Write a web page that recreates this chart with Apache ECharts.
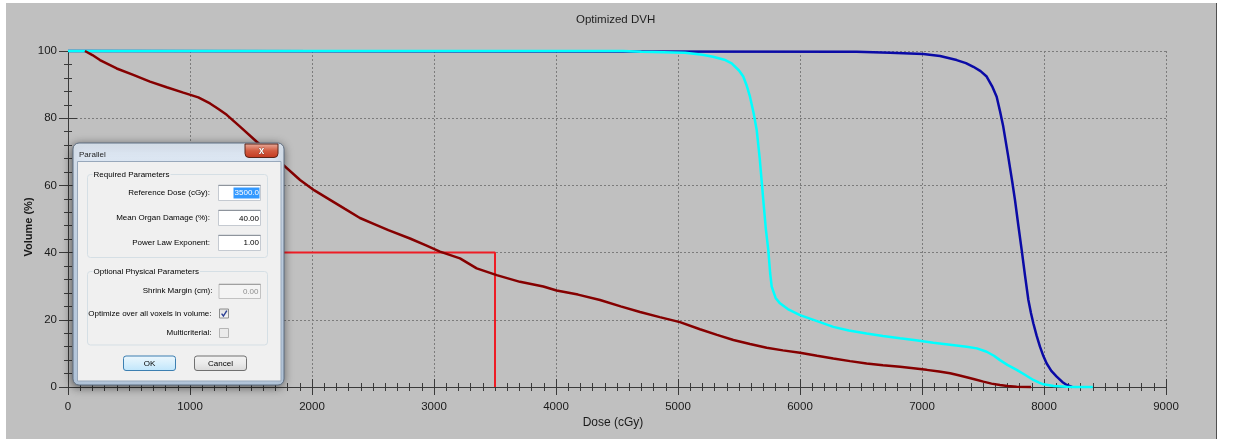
<!DOCTYPE html>
<html>
<head>
<meta charset="utf-8">
<script src="https://cdn.jsdelivr.net/npm/echarts@6/dist/echarts.min.js"></script>
<style>
html,body{margin:0;padding:0;background:#ffffff;}
#chart{width:1235px;height:439px;}
</style>
</head>
<body>
<div id="chart"></div>
<script>
// ---- data (dose in cGy, volume in %) ----
const titleText = 'Optimized DVH';
const xAxisName = 'Dose (cGy)';
const yAxisName = 'Volume (%)';
const doseMin = 0, doseMax = 9000, doseStep = 1000;
const volMin = 0, volMax = 100, volStep = 20;

const blueCurve = [[0,100],[6464,99.8],[6738,99.5],[7011,99.1],[7148,98.5],[7284,97.3],[7360,96.4],[7421,95.3],[7480,94],[7530,92.4],[7575,89.5],[7612,86.4],[7640,82],[7666,77.5],[7705,69],[7740,61],[7762,55.7],[7790,48],[7817,40.8],[7845,33],[7872,25.9],[7893,22],[7913,18.9],[7940,15.2],[7967,12.0],[7995,9.2],[8022,7.0],[8060,4.8],[8104,3.1],[8150,1.5],[8186,0.6],[8230,0]];

const cyanCurve = [[0,100],[4550,100],[4700,99.8],[5057,99.5],[5200,98.9],[5287,98.3],[5380,97.4],[5440,96.3],[5500,94.2],[5535,92.4],[5565,89.5],[5590,86.4],[5620,81.5],[5645,76.5],[5670,68],[5699,55.7],[5720,47],[5740,40.8],[5755,34],[5768,29.9],[5800,26.5],[5836,24.9],[5900,23.2],[6000,21.4],[6140,19.6],[6273,17.9],[6400,16.8],[6546,15.9],[6680,15.2],[6820,14.5],[6950,13.9],[7093,13.2],[7230,12.6],[7366,12.0],[7450,11.5],[7530,10.5],[7590,9.3],[7639,8.0],[7700,6.6],[7776,5.1],[7850,3.5],[7913,2.1],[7960,1.3],[7995,0.8],[8080,0.3],[8186,0.1],[8260,0],[8400,0]];

const redCurve = [[139,100],[200,98.8],[262,97.3],[399,94.8],[535,92.9],[672,90.9],[809,89.2],[945,87.6],[1068,86.2],[1164,84.4],[1230,82.8],[1301,81.0],[1410,77.5],[1547,73.0],[1700,68.2],[1902,61.6],[2020,58.5],[2148,55.7],[2270,53],[2393,50.3],[2510,48.5],[2626,46.7],[2803,44.2],[2930,42.2],[3049,40.3],[3213,38.3],[3350,35.3],[3514,33.3],[3705,31.3],[3896,29.9],[4005,28.7],[4180,27.5],[4361,25.9],[4530,24.0],[4689,22.3],[4850,20.8],[5016,19.3],[5180,17.2],[5320,15.5],[5454,14.0],[5590,12.8],[5727,11.7],[5860,10.9],[6000,10.2],[6140,9.3],[6273,8.5],[6410,7.7],[6546,7.0],[6680,6.5],[6820,6.0],[6930,5.6],[7038,5.1],[7140,4.6],[7230,4.1],[7300,3.5],[7366,2.9],[7430,2.3],[7503,1.6],[7570,1.0],[7639,0.6],[7700,0.3],[7776,0.1],[7894,0]];

const refDose = 3500;   // Reference Dose (cGy)
const refVolume = 40;   // Mean Organ Damage (%)
const refLine = [[500,refVolume],[refDose,refVolume],[refDose,0]];

// dialog texts
const dialogTitle = 'Parallel';
const groupRequired = 'Required Parameters';
const groupOptional = 'Optional Physical Parameters';
const fieldLabels = ['Reference Dose (cGy):','Mean Organ Damage (%):','Power Law Exponent:'];
const fieldValues = ['3500.0','40.00','1.00'];
const shrinkLabel = 'Shrink Margin (cm):', shrinkValue = '0.00';
const optLabels = ['Optimize over all voxels in volume:','Multicriterial:'];

// ---- chart ----
const axisColor = '#3a3a3a';
const lblFont = '"Liberation Sans", Arial, sans-serif';
const dlgFont = '8px "Liberation Sans", Arial, sans-serif';

function xAx(inside, main){
  return {
    type:'value', min:doseMin, max:doseMax, interval:doseStep, position:'bottom',
    name: main ? xAxisName : '', nameLocation:'middle', nameGap:30, nameMoveOverlap:false,
    nameTextStyle:{color:'#1a1a1a', fontSize:12, fontFamily:lblFont, padding:[0,8,0,0]},
    axisLine:{show:true, onZero:false, lineStyle:{color:axisColor, width:1}},
    axisTick:{show:true, inside:inside, length:8, lineStyle:{color:axisColor, width:1}},
    minorTick:{show:true, splitNumber:10, length:4, lineStyle:{color:axisColor, width:1}},
    axisLabel:{show:main, margin:14, color:'#1a1a1a', fontSize:11.5, fontFamily:lblFont, formatter:function(v){return String(v);}},
    splitLine:{show:main, lineStyle:{color:'#7c7c7c', width:1, type:[2,2]}},
    minorSplitLine:{show:false}
  };
}
function yAx(inside, main){
  return {
    type:'value', min:volMin, max:volMax, interval:volStep, position:'left',
    name: main ? yAxisName : '', nameLocation:'middle', nameGap:34, nameMoveOverlap:false,
    nameTextStyle:{color:'#1a1a1a', fontSize:11, fontWeight:'bold', fontFamily:lblFont, padding:[0,16,0,0]},
    axisLine:{show:true, onZero:false, lineStyle:{color:axisColor, width:1}},
    axisTick:{show:true, inside:inside, length:9, lineStyle:{color:axisColor, width:1}},
    minorTick:{show:true, splitNumber:5, length:4, lineStyle:{color:axisColor, width:1}},
    axisLabel:{show:main, margin:11, color:'#1a1a1a', fontSize:11.5, fontFamily:lblFont, formatter:function(v){return String(v);}},
    splitLine:{show:main, lineStyle:{color:'#7c7c7c', width:1, type:[2,2]}},
    minorSplitLine:{show:false}
  };
}

function T(x,y,text,opt){
  opt = opt || {};
  return {type:'text', x:x, y:y, z:opt.z||110,
    style:Object.assign({text:text, font:dlgFont, fill:'#000', align:'left', verticalAlign:'middle'}, opt.style||{})};
}
function R(x,y,w,h,style,r,z){
  return {type:'rect', shape:{x:x,y:y,width:w,height:h,r:r||0}, z:z||105, style:style};
}
function grad(c1,c2,c3){
  const stops = c3 ? [{offset:0,color:c1},{offset:0.5,color:c2},{offset:1,color:c3}] : [{offset:0,color:c1},{offset:1,color:c2}];
  return {type:'linear', x:0, y:0, x2:0, y2:1, colorStops:stops};
}

const dialog = [];
// frame with shadow
dialog.push(R(73,143,211,242,{fill:grad('#dfe8f3','#c3d4e7','#b8cbe0'), stroke:'#5f6f82', lineWidth:1, shadowBlur:10, shadowColor:'rgba(0,0,0,0.55)', shadowOffsetX:-1, shadowOffsetY:2},6,100));
dialog.push(T(79,155,dialogTitle,{style:{fill:'#1e1e1e'}}));
// close button
dialog.push(R(245,144,33,13.5,{fill:grad('#eab0a0','#d25b40','#c2381f'), stroke:'#5c2418', lineWidth:1},[0,0,4,4],106));
dialog.push(T(261.5,150.8,'x',{style:{font:'bold 10px "Liberation Sans", Arial, sans-serif', fill:'#ffffff', stroke:'#6a2a1e', lineWidth:0.6, align:'center'}}));
// client area
dialog.push(R(77.5,161.5,203.5,219.5,{fill:'#f0f0f0', stroke:'#98a8bb', lineWidth:1},0,101));
// group boxes
dialog.push(R(87.5,174.5,180,83,{fill:'none', stroke:'#d5dfe5', lineWidth:1},3,102));
dialog.push(R(87.5,271.5,180,73.5,{fill:'none', stroke:'#d5dfe5', lineWidth:1},3,102));
dialog.push(T(92.5,174.5,groupRequired,{style:{backgroundColor:'#f0f0f0', padding:[0,1]}}));
dialog.push(T(92.5,272,groupOptional,{style:{backgroundColor:'#f0f0f0', padding:[0,1]}}));
// required fields
const fieldY = [192.5, 218, 242.5];
const boxY = [185, 210, 235];
for (let i=0;i<3;i++){
  dialog.push(T(210,fieldY[i],fieldLabels[i],{style:{align:'right'}}));
  dialog.push(R(218.5,boxY[i],42,15.5,{fill:'#ffffff', stroke:'#c5cad1', lineWidth:1},0,103));
  dialog.push({type:'line', z:104, shape:{x1:218.5,y1:boxY[i]+0.5,x2:260.5,y2:boxY[i]+0.5}, style:{stroke:'#8e949c', lineWidth:1}});
  if (i===0){
    dialog.push(R(233.5,boxY[i]+2.5,26,11,{fill:'#3399ff'},0,104));
    dialog.push(T(259,fieldY[i],fieldValues[i],{style:{align:'right', fill:'#ffffff'}}));
  } else {
    dialog.push(T(259,fieldY[i]+0.3,fieldValues[i],{style:{align:'right'}}));
  }
}
// shrink margin (disabled)
dialog.push(T(212.5,290.8,shrinkLabel,{style:{align:'right'}}));
dialog.push(R(219,284,41.5,14.5,{fill:'#f4f4f4', stroke:'#c2c2c2', lineWidth:1},0,103));
dialog.push({type:'line', z:104, shape:{x1:219,y1:284.5,x2:260.5,y2:284.5}, style:{stroke:'#a0a0a0', lineWidth:1}});
dialog.push(T(258.5,291.3,shrinkValue,{style:{align:'right', fill:'#8f8f8f'}}));
// checkboxes
dialog.push(T(211.5,313.8,optLabels[0],{style:{align:'right'}}));
dialog.push(R(219.5,309,9,9,{fill:grad('#dedede','#f8f8f8'), stroke:'#8e8f8f', lineWidth:1},0,103));
dialog.push({type:'polyline', z:106, shape:{points:[[221.6,313.6],[223.4,316],[226.8,310.6]]}, style:{stroke:'#2b3f94', lineWidth:1.4, fill:'none'}});
dialog.push(T(211.5,333,optLabels[1],{style:{align:'right'}}));
dialog.push(R(219.5,328.5,9,9,{fill:'#ebebeb', stroke:'#b5b5b5', lineWidth:1},0,103));
// buttons
dialog.push(R(123.5,356,52,14.5,{fill:grad('#edf7fd','#d7effc','#bfe5fb'), stroke:'#3c7fb1', lineWidth:1},2.5,103));
dialog.push(T(149.5,363.5,'OK',{style:{align:'center'}}));
dialog.push(R(194.5,356,52,14.5,{fill:grad('#f3f3f3','#ebebeb','#d8d8d8'), stroke:'#707070', lineWidth:1},2.5,103));
dialog.push(T(220.5,363.5,'Cancel',{style:{align:'center'}}));

const graphics = [
  R(6,3,1210,436,{fill:'#c0c0c0'},0,-10),
  {type:'line', z:-9, shape:{x1:1216.5,y1:3,x2:1216.5,y2:439}, style:{stroke:'#505050', lineWidth:1}}
].concat(dialog);

const chart = echarts.init(document.getElementById('chart'), null, {renderer:'canvas'});
chart.setOption({
  backgroundColor:'#ffffff',
  animation:false,
  title:{text:titleText, left:571, top:9, textStyle:{color:'#1e1e1e', fontSize:11.5, fontWeight:'normal', fontFamily:lblFont}},
  grid:{left:68, right:69, top:51, bottom:52, containLabel:false},
  xAxis:[xAx(false,true), xAx(true,false)],
  yAxis:[yAx(false,true), yAx(true,false)],
  graphic:{elements:graphics},
  series:[
    {name:'Reference', type:'line', data:refLine, xAxisIndex:0, yAxisIndex:0, symbol:'none', clip:false, z:2,
      lineStyle:{color:'#ee1c25', width:2}},
    {name:'Structure 1', type:'line', data:blueCurve, xAxisIndex:0, yAxisIndex:0, symbol:'none', clip:false, z:3,
      lineStyle:{color:'#0a0aa6', width:2.5}},
    {name:'Structure 2', type:'line', data:cyanCurve, xAxisIndex:0, yAxisIndex:0, symbol:'none', clip:false, z:4,
      lineStyle:{color:'#00ffff', width:2.5}},
    {name:'Structure 3', type:'line', data:redCurve, xAxisIndex:0, yAxisIndex:0, symbol:'none', clip:false, z:5,
      lineStyle:{color:'#850000', width:2.5}}
  ]
});
</script>
</body>
</html>
